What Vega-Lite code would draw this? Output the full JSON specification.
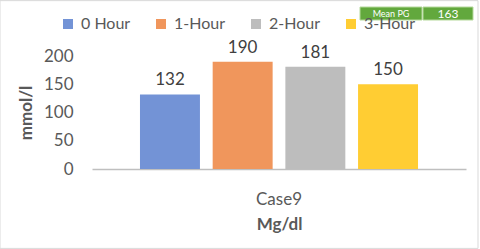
{
  "$schema": "https://vega.github.io/schema/vega-lite/v6.json",
  "width": 374,
  "height": 113,
  "autosize": {"type": "none"},
  "padding": {"left": 92, "top": 56, "right": 14, "bottom": 80},
  "background": "white",
  "config": {"view": {"stroke": null}, "font": "Lato", "axisY": {"labelOverlap": false}},
  "data": {"values": [
    {"case": "Case9", "hour": "0 Hour", "value": 132},
    {"case": "Case9", "hour": "1-Hour", "value": 190},
    {"case": "Case9", "hour": "2-Hour", "value": 181},
    {"case": "Case9", "hour": "3-Hour", "value": 150}
  ]},
  "resolve": {"scale": {"y": "independent"}, "axis": {"y": "independent"}},
  "layer": [
    {
      "mark": {"type": "bar"},
      "encoding": {
        "x": {"field": "case", "type": "nominal", "scale": {"paddingInner": 0, "paddingOuter": 0},
          "axis": {"title": "Mg/dl", "labelAngle": 0, "ticks": false, "domainColor": "#bfbfbf", "domainWidth": 1.5,
            "labelFontSize": 17, "labelColor": "#595959", "labelPadding": 22,
            "titleFontSize": 17, "titleFontWeight": "bold", "titleColor": "#595959", "titlePadding": 9}},
        "xOffset": {"field": "hour", "type": "nominal", "scale": {"paddingInner": 0.175, "paddingOuter": 0.66}},
        "y": {"field": "value", "type": "quantitative", "scale": {"domain": [0, 200]},
          "axis": {"title": "mmol/l", "values": [0, 50, 100, 150, 200], "labelOverlap": false, "domain": false, "ticks": false, "grid": false,
            "labelFontSize": 17, "labelColor": "#595959", "labelPadding": 19,
            "titleFontSize": 17, "titleFontWeight": "bold", "titleColor": "#595959", "titlePadding": 8}},
        "color": {"field": "hour", "type": "nominal",
          "scale": {"domain": ["0 Hour", "1-Hour", "2-Hour", "3-Hour"], "range": ["#7393d6", "#f0965c", "#bdbdbd", "#ffcd33"]},
          "legend": {"orient": "none", "legendX": -32, "legendY": -40, "direction": "horizontal", "columns": 4, "title": null,
            "symbolType": "square", "symbolSize": 100, "symbolStrokeWidth": 0, "labelFontSize": 16, "labelColor": "#595959",
            "columnPadding": 22, "labelOffset": 5}}
      }
    },
    {
      "data": {"values": [{}]},
      "mark": {"type": "bar", "fill": "transparent", "stroke": "#d9d9d9", "strokeWidth": 1, "width": 478, "xOffset": -40},
      "encoding": {"x": {"datum": "Case9"}, "y": {"datum": 298, "scale": {"domain": [0, 200]}, "axis": null}, "y2": {"datum": -140.5}}
    },
    {
      "mark": {"type": "text", "baseline": "alphabetic", "dy": -9, "fontSize": 17, "color": "#404040"},
      "encoding": {
        "x": {"field": "case", "type": "nominal"},
        "xOffset": {"field": "hour", "type": "nominal"},
        "y": {"field": "value", "type": "quantitative", "scale": {"domain": [0, 200]}, "axis": null},
        "text": {"field": "value", "type": "quantitative"}
      }
    },
    {
      "transform": [{"aggregate": [{"op": "mean", "field": "value", "as": "mean"}]}],
      "encoding": {"y": {"datum": 286.7, "scale": {"domain": [0, 200]}, "axis": null}},
      "layer": [
        {"mark": {"type": "bar", "fill": "#62a83d", "stroke": "#b5d99c", "strokeWidth": 1, "width": 62, "xOffset": 112},
         "encoding": {"x": {"datum": "Case9"}, "y": {"datum": 286.7, "scale": {"domain": [0, 200]}, "axis": null}, "y2": {"datum": 263.7}}},
        {"mark": {"type": "bar", "fill": "#62a83d", "stroke": "#b5d99c", "strokeWidth": 1, "width": 50, "xOffset": 169},
         "encoding": {"x": {"datum": "Case9"}, "y": {"datum": 286.7, "scale": {"domain": [0, 200]}, "axis": null}, "y2": {"datum": 263.7}}},
        {"mark": {"type": "text", "fontSize": 9, "color": "white", "dx": 112, "baseline": "middle"},
         "encoding": {"x": {"datum": "Case9"}, "y": {"datum": 275, "scale": {"domain": [0, 200]}, "axis": null}, "text": {"value": "Mean PG"}}},
        {"mark": {"type": "text", "fontSize": 12, "color": "white", "dx": 169, "baseline": "middle"},
         "encoding": {"x": {"datum": "Case9"}, "y": {"datum": 275, "scale": {"domain": [0, 200]}, "axis": null}, "text": {"field": "mean", "type": "quantitative", "format": ".0f"}}}
      ]
    }
  ]
}
